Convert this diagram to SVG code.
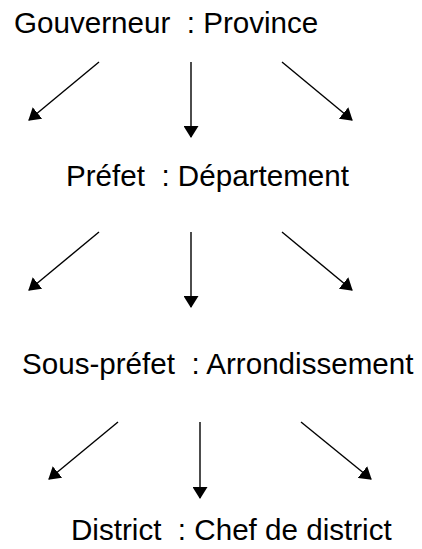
<svg xmlns="http://www.w3.org/2000/svg" width="422" height="549" viewBox="0 0 422 549">
<style>
.t{font-family:"Liberation Sans",Arial,sans-serif;font-size:29.6px;fill:#000}
.c line{stroke:#000;stroke-width:1.4;marker-end:url(#ah)}
</style>
<defs>
<marker id="ah" markerUnits="userSpaceOnUse" markerWidth="12" markerHeight="15" refX="11" refY="7.5" orient="auto" viewBox="0 0 12 15">
<path d="M0,0 L12,7.5 L0,15 z" fill="#000"/>
</marker>
</defs>
<rect width="422" height="549" fill="#fff"/>
<g id="n1"><text class="t" x="14" y="33" xml:space="preserve">Gouverneur  : Province</text></g>
<g id="n2"><text class="t" x="66" y="186" xml:space="preserve">Préfet  : Département</text></g>
<g id="n3"><text class="t" x="22" y="374" xml:space="preserve">Sous-préfet  : Arrondissement</text></g>
<g id="n4"><text class="t" x="71" y="540" xml:space="preserve">District  : Chef de district</text></g>
<g id="connectors" class="c">
<line x1="99" y1="62" x2="29" y2="120"/>
<line x1="191" y1="62" x2="191" y2="137"/>
<line x1="282" y1="62" x2="352" y2="120"/>
<line x1="99" y1="232" x2="29" y2="290"/>
<line x1="191" y1="232" x2="191" y2="307"/>
<line x1="282" y1="232" x2="352" y2="290"/>
<line x1="118" y1="422" x2="49" y2="479"/>
<line x1="200" y1="422" x2="200" y2="498"/>
<line x1="301" y1="422" x2="371" y2="479"/>
</g>
</svg>
